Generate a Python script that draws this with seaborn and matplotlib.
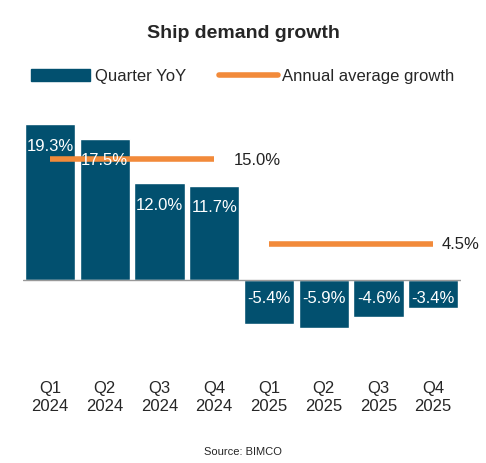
import matplotlib
matplotlib.use("Agg")
import matplotlib.pyplot as plt
import seaborn as sns
import pandas as pd
import numpy as np

quarters = ["Q1\n2024","Q2\n2024","Q3\n2024","Q4\n2024","Q1\n2025","Q2\n2025","Q3\n2025","Q4\n2025"]
yoy = [19.3, 17.5, 12.0, 11.7, -5.4, -5.9, -4.6, -3.4]
annual = [15.0, 4.5]
annual_labels = ["15.0%", "4.5%"]

sns.set_theme(style="white")
plt.rcParams['font.family'] = ['Liberation Sans', 'DejaVu Sans']

fig = plt.figure(figsize=(4.86, 4.64), dpi=100)
ax = fig.add_axes([22.6/486, 1-362/464, 438/486, (362-123)/464])
df = pd.DataFrame({"q": quarters, "v": yoy})
bar_color = "#02506F"
sns.barplot(data=df, x="q", y="v", color=bar_color, width=0.92, saturation=1, ax=ax)
orange = "#F28A3A"
ax.plot([0, 3], [annual[0]]*2, color=orange, lw=4, solid_capstyle="butt")
ax.plot([4, 7], [annual[1]]*2, color=orange, lw=4, solid_capstyle="butt")
ax.text(3.35, annual[0], annual_labels[0], fontsize=12, va="center", ha="left", color="#222")
ax.text(7.15, annual[1], annual_labels[1], fontsize=12, va="center", ha="left", color="#222")
for i, v in enumerate(yoy):
    y = v - 2.6 if v > 0 else -2.1
    ax.text(i, y, f"{v:.1f}%", color="white", ha="center", va="center", fontsize=12)
ax.axhline(0, color="#999999", lw=1)
ax.set_xlim(-0.5, 7.5)
ax.set_ylim(-10, 19.6)
ax.set_yticks([])
ax.set_xlabel(""); ax.set_ylabel("")
ax.tick_params(axis="x", length=0, labelsize=12, pad=14)
for s in ax.spines.values():
    s.set_visible(False)

fig.text(0.5, 1-33/464, "Ship demand growth", ha="center", va="center", fontsize=14, fontweight="bold")
from matplotlib.patches import Patch
from matplotlib.lines import Line2D
handles = [Patch(color=bar_color, label="Quarter YoY"), Line2D([], [], color=orange, lw=4, label="Annual average growth")]
fig.legend(handles=handles, loc="center", bbox_to_anchor=(0.5, 1-77/464), ncol=2, frameon=False,
           fontsize=12, handlelength=3.5, handletextpad=0.3, columnspacing=2.0)
fig.text(0.5, 1-452/464, "Source: BIMCO", ha="center", va="center", fontsize=8)
fig.savefig("out.png", dpi=100)
